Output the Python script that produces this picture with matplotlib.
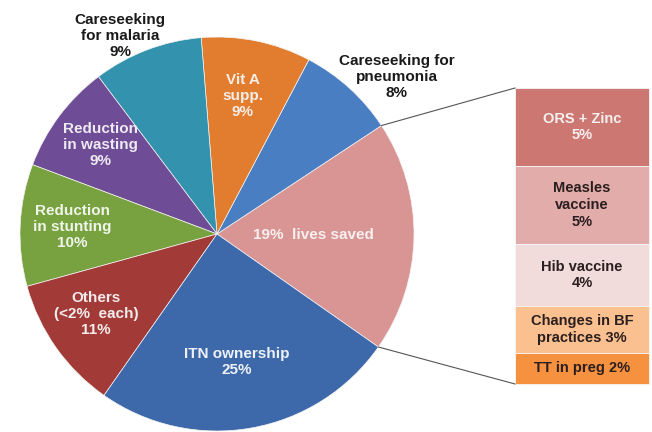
import numpy as np
import matplotlib.pyplot as plt

plt.rcParams['font.family'] = ['Liberation Sans', 'DejaVu Sans']

# main pie, counter-clockwise from the "lives saved" slice
labels = ['19%  lives saved', 'Careseeking for\npneumonia\n8%', 'Vit A\nsupp.\n9%',
          'Careseeking\nfor malaria\n9%', 'Reduction\nin wasting\n9%',
          'Reduction\nin stunting\n10%', 'Others\n(<2%  each)\n11%', 'ITN ownership\n25%']
values = [19, 8, 9, 9, 9, 10, 11, 25]
colors = ['#D99593', '#4A7EC3', '#E27C2E', '#3392AE', '#6F4C96', '#78A23F', '#A23B37', '#3D68AA']

# breakdown of the 19% slice
sub_labels = ['ORS + Zinc\n5%', 'Measles\nvaccine\n5%', 'Hib vaccine\n4%',
              'Changes in BF\npractices 3%', 'TT in preg 2%']
sub_values = [5, 5, 4, 3, 2]
sub_colors = ['#CD7773', '#E2ACAB', '#F1DBDB', '#FAC090', '#F5913F']
sub_text = ['#F4F0F0', '#2A1E1E', '#2A1E1E', '#2A1E1E', '#2A1E1E']

W, H = 652, 432
fig = plt.figure(figsize=(W / 100, H / 100), dpi=100)
ax = fig.add_axes([0, 0, 1, 1])

cx, cy, r = 217, H - 234, 197
wedges, _ = ax.pie(values, colors=colors, startangle=-35, counterclock=True,
                   center=(cx, cy), radius=r,
                   wedgeprops=dict(linewidth=0.5, edgecolor='#f4f4f4'))

# stacked box on the right
bx, bw = 515, 134
top, bot = H - 88, H - 384
scale = (top - bot) / sum(sub_values)
heights = np.array(sub_values) * scale
bottoms = top - np.cumsum(heights)
ax.bar(bx + bw / 2, heights, width=bw, bottom=bottoms, color=sub_colors,
       edgecolor='#f6f6f6', linewidth=0.6)
for lab, b, h, tc in zip(sub_labels, bottoms, heights, sub_text):
    ax.text(bx + bw / 2, b + h / 2, lab, ha='center', va='center', fontsize=10.5,
            fontweight='bold', color=tc, linespacing=1.25)

# connector lines from slice edges to box corners
w0 = wedges[0]
for ang, yy in [(w0.theta2, top), (w0.theta1, bot)]:
    a = np.deg2rad(ang)
    ax.plot([cx + r * np.cos(a), bx], [cy + r * np.sin(a), yy], color='#555555', lw=0.8)

# slice labels (pixel positions)
label_pos = [(313, 235), (397, 77), (243, 96), (120, 36), (100, 145),
             (72, 227), (96, 314), (237, 362)]
label_col = ['#F6F0F0', '#1a1a1a', '#F4EEE8', '#1a1a1a', '#EEEAF2',
             '#F0F4EA', '#F4ECEC', '#EEF2F8']
for lab, (px, py), tc in zip(labels, label_pos, label_col):
    ax.text(px, H - py, lab, ha='center', va='center', fontsize=11,
            fontweight='bold', color=tc, linespacing=1.2)

ax.set_xlim(0, W)
ax.set_ylim(0, H)
ax.set_aspect('auto')
ax.axis('off')
fig.savefig('out.png', dpi=100)
